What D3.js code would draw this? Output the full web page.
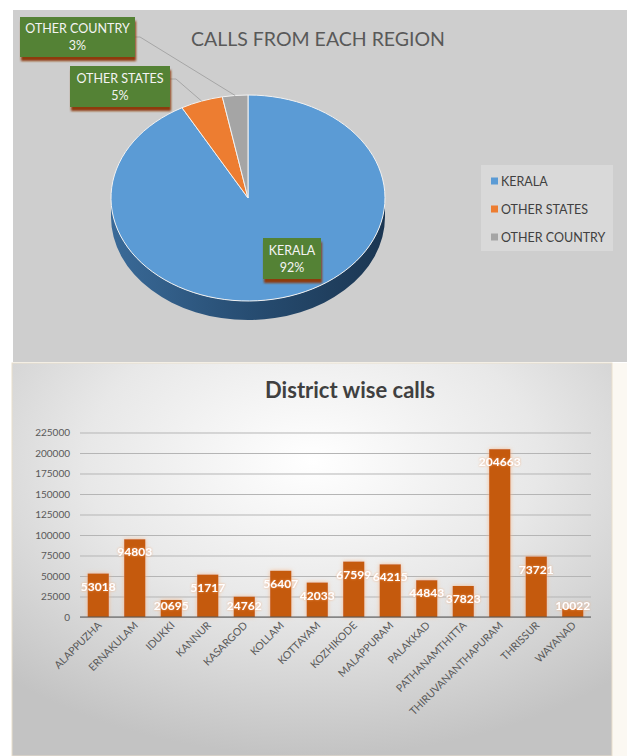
<!DOCTYPE html>
<html><head><meta charset="utf-8">
<script src="https://cdn.jsdelivr.net/npm/d3@7"></script>
<style>html,body{margin:0;padding:0;background:#fff;}svg{display:block;}</style>
</head><body>
<svg id="c" width="627" height="756"></svg>
<script>
// ---- data ----
const regions = ["KERALA", "OTHER STATES", "OTHER COUNTRY"];
const regionShare = [92, 5, 3];
const regionColors = ["#5b9bd5", "#ed7d31", "#a5a5a5"];

const districts = ["ALAPPUZHA","ERNAKULAM","IDUKKI","KANNUR","KASARGOD","KOLLAM","KOTTAYAM","KOZHIKODE","MALAPPURAM","PALAKKAD","PATHANAMTHITTA","THIRUVANANTHAPURAM","THRISSUR","WAYANAD"];
const districtCalls = [53018,94803,20695,51717,24762,56407,42033,67599,64215,44843,37823,204663,73721,10022];
const yTicks = [0,25000,50000,75000,100000,125000,150000,175000,200000,225000];

const FONT = "Lato, 'Open Sans', sans-serif";
const svg = d3.select("#c");
const defs = svg.append("defs");

// ================= TOP PANEL: PIE =================
svg.append("rect").attr("x",13).attr("y",10).attr("width",614).attr("height",352).attr("fill","#cecece");

svg.append("text").attr("x",318).attr("y",46).attr("text-anchor","middle")
  .attr("font-family",FONT).attr("font-size",19.5).attr("fill","#595959")
  .text("CALLS FROM EACH REGION");

const cx = 248, cy = 198, rx = 137, ry = 103, depth = 19;

const sg = defs.append("linearGradient").attr("id","side").attr("x1","0").attr("x2","1").attr("y1","0").attr("y2","0");
sg.append("stop").attr("offset","0").attr("stop-color","#3a6a98");
sg.append("stop").attr("offset","0.5").attr("stop-color","#274d72");
sg.append("stop").attr("offset","1").attr("stop-color","#1b3652");

svg.append("path")
  .attr("d", `M${cx+rx},${cy} L${cx+rx},${cy+depth} A${rx},${ry} 0 0 1 ${cx-rx},${cy+depth} L${cx-rx},${cy} A${rx},${ry} 0 0 0 ${cx+rx},${cy} Z`)
  .attr("fill","url(#side)");

const pie = d3.pie().sort(null).value(d=>d);
const arcs = pie(regionShare);
const arc = d3.arc().innerRadius(0).outerRadius(rx);
const pg = svg.append("g").attr("transform",`translate(${cx},${cy}) scale(1,${ry/rx})`);
pg.selectAll("path").data(arcs).join("path")
  .attr("d",arc).attr("fill",(d,i)=>regionColors[i])
  .attr("stroke","#f2f2f2").attr("stroke-width",1).attr("vector-effect","non-scaling-stroke");

function ellPt(a){ return [cx + rx*Math.sin(a), cy - ry*Math.cos(a)]; }

const shadowF = defs.append("filter").attr("id","lblsh").attr("x","-20%").attr("y","-20%").attr("width","140%").attr("height","160%");
shadowF.append("feGaussianBlur").attr("stdDeviation",1);

function labelBox(x,y,w,h,l1,l2){
  const g = svg.append("g");
  g.append("rect").attr("x",x+1).attr("y",y+4).attr("width",w).attr("height",h).attr("fill","#8e3a0c").attr("filter","url(#lblsh)");
  g.append("rect").attr("x",x).attr("y",y).attr("width",w).attr("height",h).attr("fill","#548235");
  g.append("text").attr("x",x+w/2).attr("y",y+h/2-4).attr("text-anchor","middle")
    .attr("font-family",FONT).attr("font-size",12.5).attr("fill","#f4f4f4").text(l1);
  g.append("text").attr("x",x+w/2).attr("y",y+h/2+13).attr("text-anchor","middle")
    .attr("font-family",FONT).attr("font-size",12.5).attr("fill","#f4f4f4").text(l2);
}

const aCountry = (arcs[2].startAngle + arcs[2].endAngle)/2;
const aStates = (arcs[1].startAngle + arcs[1].endAngle)/2;
const pC = ellPt(aCountry), pS = ellPt(aStates);
svg.append("polyline").attr("points",`135,37 140,37 ${pC[0]},${pC[1]}`).attr("fill","none").attr("stroke","#a6a6a6").attr("stroke-width",1);
svg.append("polyline").attr("points",`170,79 176,79 ${pS[0]},${pS[1]}`).attr("fill","none").attr("stroke","#a6a6a6").attr("stroke-width",1);

labelBox(20,17,115,40,"OTHER COUNTRY", regionShare[2]+"%");
labelBox(70,66,100,41,"OTHER STATES", regionShare[1]+"%");
labelBox(263,238,58,41,"KERALA", regionShare[0]+"%");

svg.append("rect").attr("x",481).attr("y",165).attr("width",132).attr("height",86).attr("fill","#d9d9d9");
regions.forEach((r,i)=>{
  const yy = 181 + i*28;
  svg.append("rect").attr("x",491).attr("y",yy-3.5).attr("width",7).attr("height",7).attr("fill",regionColors[i]);
  svg.append("text").attr("x",501).attr("y",yy+4.5).attr("font-family",FONT).attr("font-size",12.5).attr("fill","#404040").text(r);
});

// ================= BOTTOM PANEL: BARS =================
const bg = defs.append("radialGradient").attr("id","bgrad").attr("cx","0.5").attr("cy","0.25").attr("r","0.75");
bg.append("stop").attr("offset","0").attr("stop-color","#ffffff");
bg.append("stop").attr("offset","0.5").attr("stop-color","#e8e8e8");
bg.append("stop").attr("offset","1").attr("stop-color","#c3c3c3");

svg.append("rect").attr("x",611).attr("y",363).attr("width",16).attr("height",393).attr("fill","#fbf8f2");
svg.append("rect").attr("x",12).attr("y",363).attr("width",600).attr("height",393).attr("fill","url(#bgrad)")
  .attr("stroke","#eadfcc").attr("stroke-width",1);

svg.append("text").attr("x",350).attr("y",398).attr("text-anchor","middle")
  .attr("font-family",FONT).attr("font-weight","bold").attr("font-size",22).attr("fill","#404040")
  .text("District wise calls");

const x = d3.scaleBand().domain(districts).range([80,591]).paddingInner(0.42).paddingOuter(0.21);
const y = d3.scaleLinear().domain([0,225000]).range([617,432.5]);

const gy = svg.append("g").attr("transform","translate(80,0)")
  .call(d3.axisLeft(y).tickValues(yTicks).tickSize(-511).tickFormat(d3.format("d")));
gy.select(".domain").remove();
gy.selectAll(".tick line").attr("stroke","#b5b5b5").attr("stroke-width",1);
gy.selectAll(".tick text").attr("x",-10).attr("font-family",FONT).attr("font-size",10).attr("fill","#595959");

const glow = defs.append("filter").attr("id","glow").attr("x","-40%").attr("y","-20%").attr("width","180%").attr("height","140%");
glow.append("feGaussianBlur").attr("in","SourceAlpha").attr("stdDeviation",2).attr("result","b");
glow.append("feFlood").attr("flood-color","#f6b88a").attr("flood-opacity",0.9);
glow.append("feComposite").attr("in2","b").attr("operator","in").attr("result","g");
const gm = glow.append("feMerge"); gm.append("feMergeNode").attr("in","g"); gm.append("feMergeNode").attr("in","SourceGraphic");

svg.append("g").selectAll("rect").data(districtCalls).join("rect")
  .attr("x",(d,i)=>x(districts[i])).attr("width",x.bandwidth())
  .attr("y",d=>y(d)).attr("height",d=>y(0)-y(d))
  .attr("fill","#c55a11").attr("filter","url(#glow)");

svg.append("line").attr("x1",80).attr("x2",591).attr("y1",y(0)).attr("y2",y(0)).attr("stroke","#595959").attr("stroke-width",1.2);

const tglow = defs.append("filter").attr("id","tglow").attr("x","-20%").attr("y","-40%").attr("width","140%").attr("height","180%");
tglow.append("feGaussianBlur").attr("in","SourceAlpha").attr("stdDeviation",1.2).attr("result","b");
tglow.append("feFlood").attr("flood-color","#f4a56a").attr("flood-opacity",0.8);
tglow.append("feComposite").attr("in2","b").attr("operator","in").attr("result","g");
const tm = tglow.append("feMerge"); tm.append("feMergeNode").attr("in","g"); tm.append("feMergeNode").attr("in","SourceGraphic");

svg.append("g").selectAll("text").data(districtCalls).join("text")
  .attr("x",(d,i)=>x(districts[i])+x.bandwidth()/2)
  .attr("y",d=>Math.min(y(d)+13, 606)+4)
  .attr("text-anchor","middle").attr("font-family",FONT).attr("font-weight","bold").attr("font-size",12)
  .attr("fill","#ffffff").attr("filter","url(#tglow)")
  .text(d=>d);

svg.append("g").selectAll("text").data(districts).join("text")
  .attr("transform",d=>`translate(${x(d)+x.bandwidth()/2+4},${626}) rotate(-45)`)
  .attr("text-anchor","end").attr("font-family",FONT).attr("font-size",10.5).attr("fill","#595959")
  .text(d=>d);
</script>
</body></html>
